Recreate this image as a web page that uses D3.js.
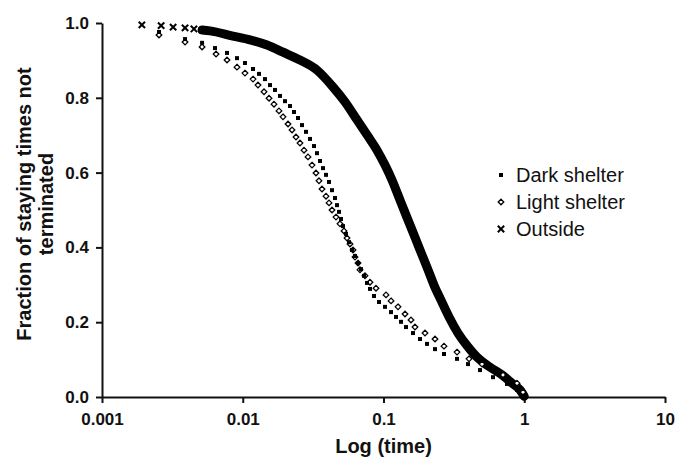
<!DOCTYPE html>
<html lang="en">
<head>
<meta charset="UTF-8">
<title>Staying times</title>
<script src="https://cdn.jsdelivr.net/npm/d3@7/dist/d3.min.js"></script>
<style>
    body { margin: 0; background: #fff; }
    .axis text { font: bold 17px Arial, "Liberation Sans", sans-serif; fill: #111; }
    .axis path, .axis line { stroke: #111; stroke-width: 2; }
    .title { font: bold 20px Arial, "Liberation Sans", sans-serif; fill: #111; text-anchor: middle; }
    .legend text { font: 20px Arial, "Liberation Sans", sans-serif; fill: #111; }
</style>
</head>
<body>
<svg id="chart" width="677" height="458"></svg>
<script>
    // values (time on a log axis, fraction not terminated)
    const darkTime = [0.00254, 0.00389, 0.00514, 0.00635, 0.00773, 0.0091, 0.01037, 0.01183, 0.01305, 0.01439,
        0.01562, 0.01695, 0.01839, 0.01996, 0.02166, 0.02313, 0.0247, 0.02636, 0.02814, 0.03005,
        0.03208, 0.03369, 0.03539, 0.03717, 0.03904, 0.04101, 0.04307, 0.04524, 0.04672, 0.04828,
        0.04989, 0.05156, 0.05415, 0.05687, 0.05974, 0.06274, 0.0659, 0.06921, 0.07269, 0.07635,
        0.08019, 0.08561, 0.0929, 0.1025, 0.1131, 0.1227, 0.1332, 0.1445, 0.162, 0.1817,
        0.2038, 0.2322, 0.269, 0.3329, 0.3986, 0.4849, 0.5998, 0.7544, 0.8882, 1.0]
    const darkFrac = [0.976, 0.957, 0.947, 0.933, 0.92, 0.906, 0.893, 0.877, 0.864, 0.85,
        0.834, 0.821, 0.805, 0.791, 0.778, 0.762, 0.746, 0.727, 0.709, 0.69,
        0.671, 0.652, 0.631, 0.612, 0.594, 0.575, 0.553, 0.532, 0.513, 0.495,
        0.476, 0.457, 0.436, 0.414, 0.393, 0.377, 0.358, 0.342, 0.324, 0.305,
        0.289, 0.27, 0.254, 0.241, 0.227, 0.214, 0.201, 0.187, 0.171, 0.155,
        0.142, 0.128, 0.115, 0.102, 0.088, 0.072, 0.053, 0.035, 0.019, 0.003]

    const lightTime = [0.00254, 0.00389, 0.00514, 0.00646, 0.00773, 0.0091, 0.01037, 0.01183, 0.01283, 0.01416,
        0.01537, 0.01667, 0.01809, 0.01932, 0.02097, 0.02239, 0.02389, 0.02551, 0.02724, 0.02908,
        0.03105, 0.03314, 0.03481, 0.03656, 0.03904, 0.04101, 0.04307, 0.04597, 0.04909, 0.05241,
        0.05504, 0.05781, 0.06073, 0.06274, 0.0659, 0.06808, 0.07387, 0.08019, 0.08845, 0.1042,
        0.1131, 0.1268, 0.1422, 0.1568, 0.1674, 0.1972, 0.2322, 0.269, 0.3329, 0.4051,
        0.501, 0.7063, 0.8882, 0.9797]
    const lightFrac = [0.968, 0.949, 0.936, 0.917, 0.901, 0.882, 0.866, 0.85, 0.834, 0.816,
        0.799, 0.783, 0.765, 0.749, 0.73, 0.714, 0.695, 0.679, 0.66, 0.642,
        0.62, 0.599, 0.578, 0.556, 0.537, 0.519, 0.5, 0.481, 0.463, 0.444,
        0.425, 0.409, 0.393, 0.374, 0.358, 0.34, 0.324, 0.307, 0.291, 0.273,
        0.257, 0.241, 0.222, 0.206, 0.187, 0.171, 0.155, 0.136, 0.12, 0.102,
        0.088, 0.059, 0.037, 0.013]

    const outTime = [0.00192, 0.00263, 0.0032, 0.00389, 0.0045, 0.00514, 0.00585, 0.00852, 0.01126, 0.01487,
        0.01932, 0.02551, 0.03369, 0.04378, 0.05327, 0.06482, 0.07635, 0.08991, 0.1025, 0.1149,
        0.1268, 0.1398, 0.1543, 0.1702, 0.1877, 0.2072, 0.2285, 0.2562, 0.2921, 0.3383,
        0.3986, 0.4692, 0.571, 0.695, 0.8185, 0.9328, 1.0]
    const outFrac = [0.995, 0.993, 0.989, 0.987, 0.984, 0.981, 0.979, 0.965, 0.955, 0.941,
        0.922, 0.901, 0.874, 0.829, 0.789, 0.741, 0.701, 0.66, 0.62, 0.58,
        0.54, 0.5, 0.46, 0.42, 0.38, 0.34, 0.299, 0.259, 0.214, 0.171,
        0.134, 0.104, 0.08, 0.059, 0.037, 0.019, 0.002]

    const xTicks = [0.001, 0.01, 0.1, 1, 10]
    const xTickLabels = ["0.001", "0.01", "0.1", "1", "10"]
    const yTicks = [0, 0.2, 0.4, 0.6, 0.8, 1.0]
    const seriesNames = ["Dark shelter", "Light shelter", "Outside"]

    const svg = d3.select("#chart")
    const width = +svg.attr("width")
    const height = +svg.attr("height")
    const margin = {top: 23, right: 12, bottom: 61, left: 102}

    const x = d3.scaleLog().domain([0.001, 10]).range([margin.left, width - margin.right])
    const y = d3.scaleLinear().domain([0, 1]).range([height - margin.bottom, margin.top])

    const zip = (ts, fs) => ts.map((t, i) => ({t: t, f: fs[i]}))
    const dark = zip(darkTime, darkFrac)
    const light = zip(lightTime, lightFrac)
    const outside = zip(outTime, outFrac)

    // axes
    svg.append("g").attr("class", "axis")
        .attr("transform", `translate(0,${y(0)})`)
        .call(d3.axisBottom(x).tickValues(xTicks).tickFormat((d, i) => xTickLabels[i])
            .tickSize(6).tickSizeOuter(0).tickPadding(10))
    svg.append("g").attr("class", "axis")
        .attr("transform", `translate(${x(0.001)},0)`)
        .call(d3.axisLeft(y).tickValues(yTicks).tickFormat(d3.format(".1f"))
            .tickSize(6).tickSizeOuter(0).tickPadding(7))

    // axis titles
    svg.append("text").attr("class", "title")
        .attr("x", (x.range()[0] + x.range()[1]) / 2).attr("y", 453)
        .text("Log (time)")
    const yt = svg.append("text").attr("class", "title")
        .attr("transform", "translate(31,204) rotate(-90)")
    yt.append("tspan").attr("x", 0).attr("y", 0).text("Fraction of staying times not")
    yt.append("tspan").attr("x", 0).attr("y", 22).text("terminated")

    // outside: dense crosses form a thick band
    const line = d3.line().x(d => x(d.t)).y(d => y(d.f)).curve(d3.curveMonotoneX)
    svg.append("path").datum(outside.slice(5))
        .attr("d", line).attr("fill", "none").attr("stroke", "#000")
        .attr("stroke-width", 9).attr("stroke-linecap", "round")

    const cross = d3.symbol().type(d3.symbolX).size(28)
    const square = d3.symbol().type(d3.symbolSquare).size(16)
    const diamond = "M0,-2.8L2.8,0L0,2.8L-2.8,0Z"

    svg.append("g").selectAll("path").data(outside.slice(0, 7)).enter().append("path")
        .attr("transform", d => `translate(${x(d.t)},${y(d.f)})`)
        .attr("d", cross).attr("fill", "none").attr("stroke", "#000").attr("stroke-width", 2)

    svg.append("g").selectAll("path").data(light).enter().append("path")
        .attr("transform", d => `translate(${x(d.t)},${y(d.f)})`)
        .attr("d", diamond).attr("fill", "#fff").attr("stroke", "#000").attr("stroke-width", 1.3)

    svg.append("g").selectAll("path").data(dark).enter().append("path")
        .attr("transform", d => `translate(${x(d.t)},${y(d.f)})`)
        .attr("d", square).attr("fill", "#000")

    // legend
    const legend = svg.append("g").attr("class", "legend")
    const legendMarks = [
        g => g.append("path").attr("d", square).attr("fill", "#000"),
        g => g.append("path").attr("d", diamond).attr("fill", "#fff").attr("stroke", "#000").attr("stroke-width", 1.3),
        g => g.append("path").attr("d", cross).attr("fill", "none").attr("stroke", "#000").attr("stroke-width", 2)
    ]
    seriesNames.forEach((name, i) => {
        const row = legend.append("g").attr("transform", `translate(501,${182 + i * 27})`)
        legendMarks[i](row.append("g").attr("transform", "translate(0,-7)"))
        row.append("text").attr("x", 15).attr("y", 0).text(name)
    })
</script>
</body>
</html>
